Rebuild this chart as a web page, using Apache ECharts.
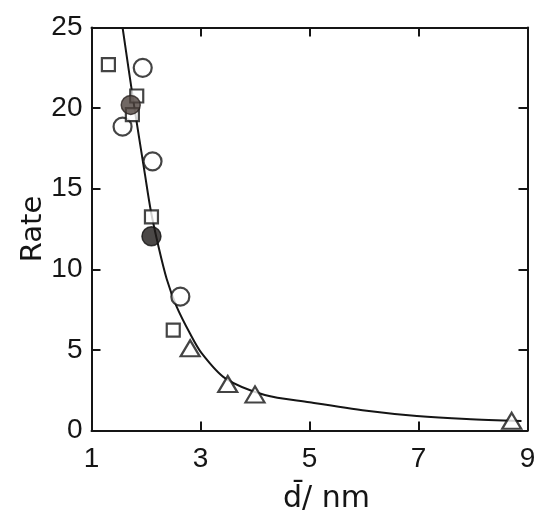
<!DOCTYPE html>
<html>
<head>
<meta charset="utf-8">
<script src="https://cdn.jsdelivr.net/npm/echarts@6/dist/echarts.min.js"></script>
<style>
html,body{margin:0;padding:0;background:#fff;}
#chart{width:550px;height:525px;}
</style>
</head>
<body>
<div id="chart"></div>
<script>
// Data
const xTicks = [1, 3, 5, 7, 9];
const yTicks = [0, 5, 10, 15, 20, 25];

const openCircleX = [1.94, 1.57, 2.12, 2.63];
const openCircleY = [22.5, 18.85, 16.7, 8.3];

const squareX = [1.31, 1.83, 1.75, 2.10, 2.50];
const squareY = [22.7, 20.75, 19.6, 13.25, 6.23];

const triangleX = [2.81, 3.50, 4.00, 8.71];
const triangleY = [5.1, 2.88, 2.24, 0.6];

const grayCircleX = [1.72];
const grayCircleY = [20.2];

const blackCircleX = [2.10];
const blackCircleY = [12.05];

const curveX = [1.57, 1.77, 1.98, 2.09, 2.23, 2.38, 2.56, 2.81, 3.02, 3.45, 4.18, 5.0, 6.05, 6.97, 7.88, 8.89];
const curveY = [25.0, 20.4, 15.9, 13.6, 11.4, 9.4, 7.7, 6.0, 4.8, 3.25, 2.2, 1.75, 1.23, 0.9, 0.71, 0.59];

function pairs(xs, ys) { return xs.map((x, i) => [x, ys[i]]); }

const FONT = "'Liberation Sans', Arial, sans-serif";
const NAME_FONT = "'DejaVu Sans', 'Liberation Sans', sans-serif";
const INK = '#151515';

const GRID = {left: 91.5, right: 22.5, top: 27.5, bottom: 94.5};
const W = 550, H = 525;
const TICK = 9;
const gridH = H - GRID.top - GRID.bottom;
const gridW = W - GRID.left - GRID.right;

const chart = echarts.init(document.getElementById('chart'), null, {renderer: 'canvas'});

function tick(len) { return {show: true, inside: false, length: len, lineStyle: {color: INK, width: 2}}; }

function xAxisDef(extra) {
  return Object.assign({
    type: 'value', min: xTicks[0], max: xTicks[xTicks.length - 1], interval: 2,
    axisLine: {show: true, onZero: false, lineStyle: {color: INK, width: 2}},
    axisTick: {show: false}, axisLabel: {show: false},
    splitLine: {show: false}
  }, extra);
}
function yAxisDef(extra) {
  return Object.assign({
    type: 'value', min: yTicks[0], max: yTicks[yTicks.length - 1], interval: 5,
    axisLine: {show: true, onZero: false, lineStyle: {color: INK, width: 2}},
    axisTick: {show: false}, axisLabel: {show: false},
    splitLine: {show: false}
  }, extra);
}

const option = {
  backgroundColor: '#ffffff',
  animation: false,
  grid: GRID,
  xAxis: [
    xAxisDef({
      position: 'bottom',
      axisLabel: {show: true, fontSize: 28, fontFamily: FONT, color: INK, margin: 15},
      name: 'd\u0304/ nm', nameLocation: 'middle', nameGap: 54, nameMoveOverlap: false,
      nameTextStyle: {fontSize: 30, fontFamily: NAME_FONT, color: INK, padding: [0, 0, 0, 34]}
    }),
    // top frame edge with inward ticks
    xAxisDef({position: 'top', axisTick: tick(-TICK)}),
    // tick row hanging down onto the bottom edge (invisible axis line just above the bottom edge)
    xAxisDef({position: 'top', offset: -(gridH - TICK), axisLine: {show: false}, axisTick: tick(-TICK)})
  ],
  yAxis: [
    yAxisDef({
      position: 'left',
      axisLabel: {show: true, fontSize: 28, fontFamily: FONT, color: INK, margin: 9},
      name: 'Rate', nameLocation: 'middle', nameGap: 44, nameRotate: 90, nameMoveOverlap: false,
      nameTextStyle: {fontSize: 29, fontFamily: NAME_FONT, color: INK}
    }),
    // right frame edge with inward ticks
    yAxisDef({position: 'right', axisTick: tick(-TICK)}),
    // tick column reaching left onto the left edge (invisible axis line just right of the left edge)
    yAxisDef({position: 'right', offset: -(gridW - TICK), axisLine: {show: false}, axisTick: tick(-TICK)})
  ],
  series: [
    {
      type: 'line', name: 'fit', data: pairs(curveX, curveY),
      xAxisIndex: 0, yAxisIndex: 0,
      smooth: 0.3, showSymbol: false, symbol: 'none',
      lineStyle: {color: INK, width: 2}, clip: true, z: 2
    },
    {
      type: 'scatter', name: 'open circles', data: pairs(openCircleX, openCircleY),
      symbol: 'circle', symbolSize: 18,
      itemStyle: {color: '#ffffff', borderColor: INK, borderWidth: 2.2}, z: 3
    },
    {
      type: 'scatter', name: 'squares', data: pairs(squareX, squareY),
      symbol: 'rect', symbolSize: 13,
      itemStyle: {color: '#ffffff', borderColor: INK, borderWidth: 2.2}, z: 4
    },
    {
      type: 'scatter', name: 'triangles', data: pairs(triangleX, triangleY),
      symbol: 'triangle', symbolSize: [19, 16],
      itemStyle: {color: '#ffffff', borderColor: INK, borderWidth: 2.2}, z: 4
    },
    {
      type: 'scatter', name: 'gray filled', data: pairs(grayCircleX, grayCircleY),
      symbol: 'circle', symbolSize: 19,
      itemStyle: {color: '#4d423d', borderColor: '#2a2320', borderWidth: 1.5}, z: 5
    },
    {
      type: 'scatter', name: 'black filled', data: pairs(blackCircleX, blackCircleY),
      symbol: 'circle', symbolSize: 19,
      itemStyle: {color: '#1e1a19', borderColor: '#111', borderWidth: 1.5}, z: 5
    }
  ]
};

chart.setOption(option);
</script>
</body>
</html>
